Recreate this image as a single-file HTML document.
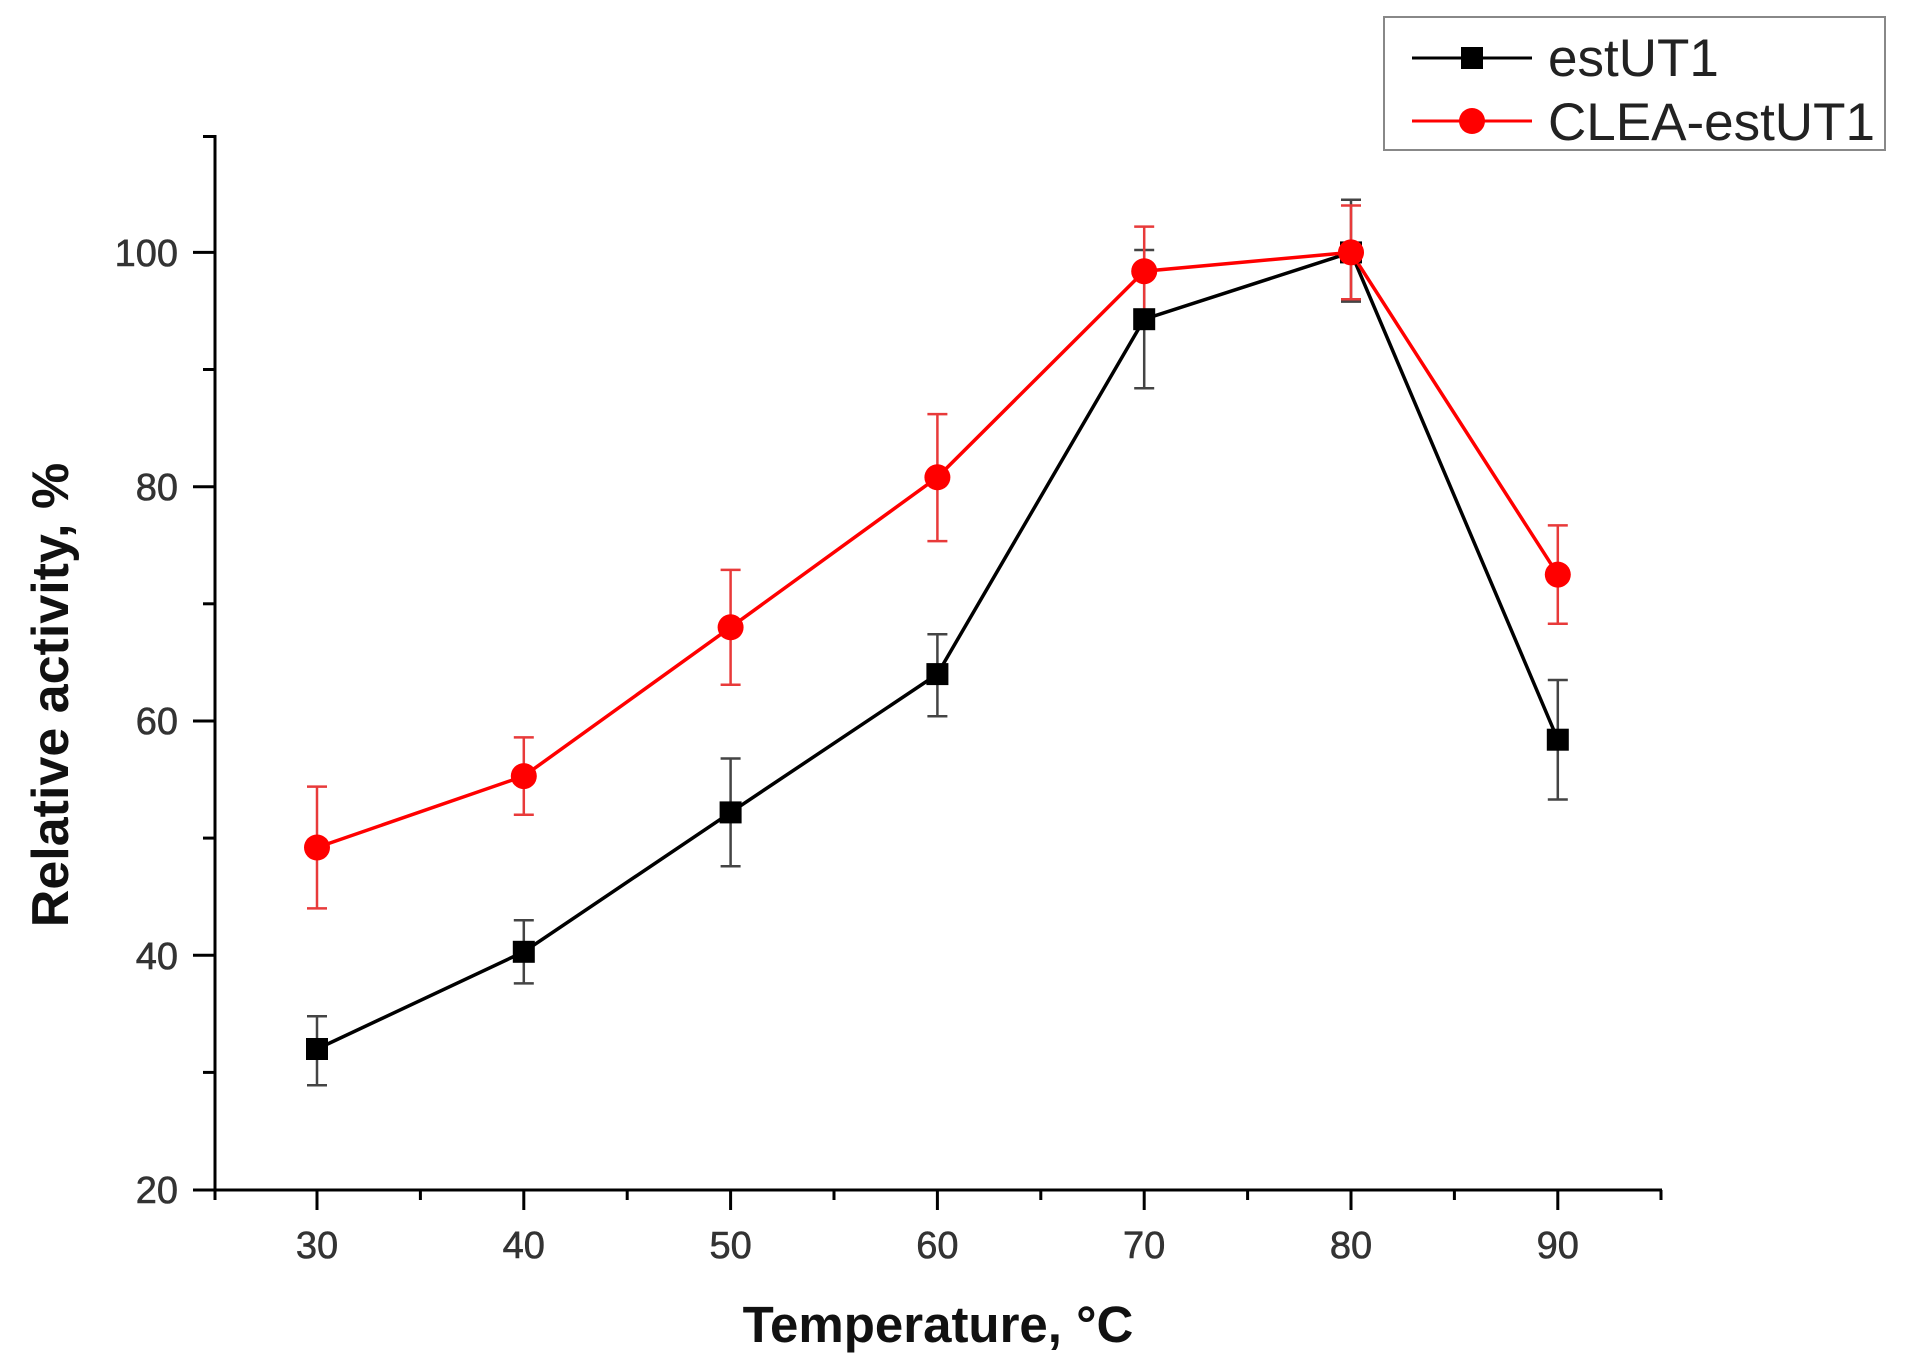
<!DOCTYPE html>
<html><head><meta charset="utf-8"><style>html,body{margin:0;padding:0;background:#fff}svg{display:block}</style></head>
<body>
<svg width="1911" height="1371" viewBox="0 0 1911 1371" xmlns="http://www.w3.org/2000/svg" font-family="Liberation Sans, Arial, sans-serif">
<rect width="1911" height="1371" fill="#fff"/>
<g stroke="#000" stroke-width="3" fill="none">
<line x1="215" y1="135" x2="215" y2="1191"/>
<line x1="213.5" y1="1190" x2="1662" y2="1190"/>
<line x1="193" y1="1190" x2="215" y2="1190"/><line x1="193" y1="955.3" x2="215" y2="955.3"/><line x1="193" y1="721" x2="215" y2="721"/><line x1="193" y1="486.7" x2="215" y2="486.7"/><line x1="193" y1="252.4" x2="215" y2="252.4"/>
<line x1="203" y1="1072.4" x2="215" y2="1072.4"/><line x1="203" y1="838.1" x2="215" y2="838.1"/><line x1="203" y1="603.8" x2="215" y2="603.8"/><line x1="203" y1="369.5" x2="215" y2="369.5"/><line x1="203" y1="136.5" x2="215" y2="136.5"/>
<line x1="317" y1="1190" x2="317" y2="1210"/><line x1="523.8" y1="1190" x2="523.8" y2="1210"/><line x1="730.6" y1="1190" x2="730.6" y2="1210"/><line x1="937.4" y1="1190" x2="937.4" y2="1210"/><line x1="1144.2" y1="1190" x2="1144.2" y2="1210"/><line x1="1351" y1="1190" x2="1351" y2="1210"/><line x1="1557.8" y1="1190" x2="1557.8" y2="1210"/>
<line x1="215" y1="1190" x2="215" y2="1200"/><line x1="420.4" y1="1190" x2="420.4" y2="1200"/><line x1="627.2" y1="1190" x2="627.2" y2="1200"/><line x1="834" y1="1190" x2="834" y2="1200"/><line x1="1040.8" y1="1190" x2="1040.8" y2="1200"/><line x1="1247.6" y1="1190" x2="1247.6" y2="1200"/><line x1="1454.4" y1="1190" x2="1454.4" y2="1200"/><line x1="1661" y1="1190" x2="1661" y2="1200"/>
</g>
<g font-size="38" fill="#333" text-anchor="end" stroke="#333" stroke-width="0.6">
<text x="178" y="1203">20</text><text x="178" y="969">40</text><text x="178" y="734">60</text><text x="178" y="500">80</text><text x="178" y="266">100</text>
</g>
<g font-size="38" fill="#333" text-anchor="middle" stroke="#333" stroke-width="0.6">
<text x="317" y="1258">30</text><text x="523.8" y="1258">40</text><text x="730.6" y="1258">50</text><text x="937.4" y="1258">60</text><text x="1144.2" y="1258">70</text><text x="1351" y="1258">80</text><text x="1557.8" y="1258">90</text>
</g>
<text x="938" y="1342" font-size="51" font-weight="bold" text-anchor="middle" fill="#111">Temperature, °C</text>
<text transform="translate(68,695) rotate(-90)" font-size="52" font-weight="bold" text-anchor="middle" fill="#111">Relative activity, %</text>
<g stroke="#444" stroke-width="2.5">
<path d="M317 1016.2V1085.2M307 1016.2H327M307 1085.2H327"/>
<path d="M523.8 920.2V983.4M513.8 920.2H533.8M513.8 983.4H533.8"/>
<path d="M730.6 758.5V866.3M720.6 758.5H740.6M720.6 866.3H740.6"/>
<path d="M937.4 634.3V716.3M927.4 634.3H947.4M927.4 716.3H947.4"/>
<path d="M1144.2 250V388.3M1134.2 250H1154.2M1134.2 388.3H1154.2"/>
<path d="M1351 199.7V301.6M1341 199.7H1361M1341 301.6H1361"/>
<path d="M1557.8 680V799.5M1547.8 680H1567.8M1547.8 799.5H1567.8"/>
</g>
<g stroke="#e83a3a" stroke-width="2.5">
<path d="M317 786.6V908.4M307 786.6H327M307 908.4H327"/>
<path d="M523.8 737.4V814.7M513.8 737.4H533.8M513.8 814.7H533.8"/>
<path d="M730.6 569.9V684.7M720.6 569.9H740.6M720.6 684.7H740.6"/>
<path d="M937.4 414.1V541.1M927.4 414.1H947.4M927.4 541.1H947.4"/>
<path d="M1144.2 226.6V316.2M1134.2 226.6H1154.2M1134.2 316.2H1154.2"/>
<path d="M1351 205.5V299.2M1341 205.5H1361M1341 299.2H1361"/>
<path d="M1557.8 525.4V623.8M1547.8 525.4H1567.8M1547.8 623.8H1567.8"/>
</g>
<polyline fill="none" stroke="#000" stroke-width="3.5" points="317,1049 523.8,951.8 730.6,812.4 937.4,674.1 1144.2,319.2 1351,252.4 1557.8,739.7"/>
<polyline fill="none" stroke="#f00" stroke-width="3.5" points="317,847.5 523.8,776.1 730.6,627.3 937.4,477.3 1144.2,271.2 1351,252.4 1557.8,574.6"/>
<g fill="#000">
<rect x="306" y="1038" width="22" height="22"/><rect x="512.8" y="940.8" width="22" height="22"/><rect x="719.6" y="801.4" width="22" height="22"/><rect x="926.4" y="663.1" width="22" height="22"/><rect x="1133.2" y="308.2" width="22" height="22"/><rect x="1340" y="241.4" width="22" height="22"/><rect x="1546.8" y="728.7" width="22" height="22"/>
</g>
<g fill="#f00">
<circle cx="317" cy="847.5" r="13"/><circle cx="523.8" cy="776.1" r="13"/><circle cx="730.6" cy="627.3" r="13"/><circle cx="937.4" cy="477.3" r="13"/><circle cx="1144.2" cy="271.2" r="13"/><circle cx="1351" cy="252.4" r="13"/><circle cx="1557.8" cy="574.6" r="13"/>
</g>
<rect x="1384" y="17" width="501" height="133" fill="#fff" stroke="#888" stroke-width="2"/>
<line x1="1412" y1="58" x2="1532" y2="58" stroke="#000" stroke-width="3"/>
<rect x="1461" y="47" width="22" height="22" fill="#000"/>
<line x1="1412" y1="121" x2="1532" y2="121" stroke="#f00" stroke-width="3"/>
<circle cx="1472" cy="121" r="13" fill="#f00"/>
<text x="1548" y="76" font-size="53" fill="#222">estUT1</text>
<text x="1548" y="140" font-size="53" fill="#222">CLEA-estUT1</text>
</svg>
</body></html>
